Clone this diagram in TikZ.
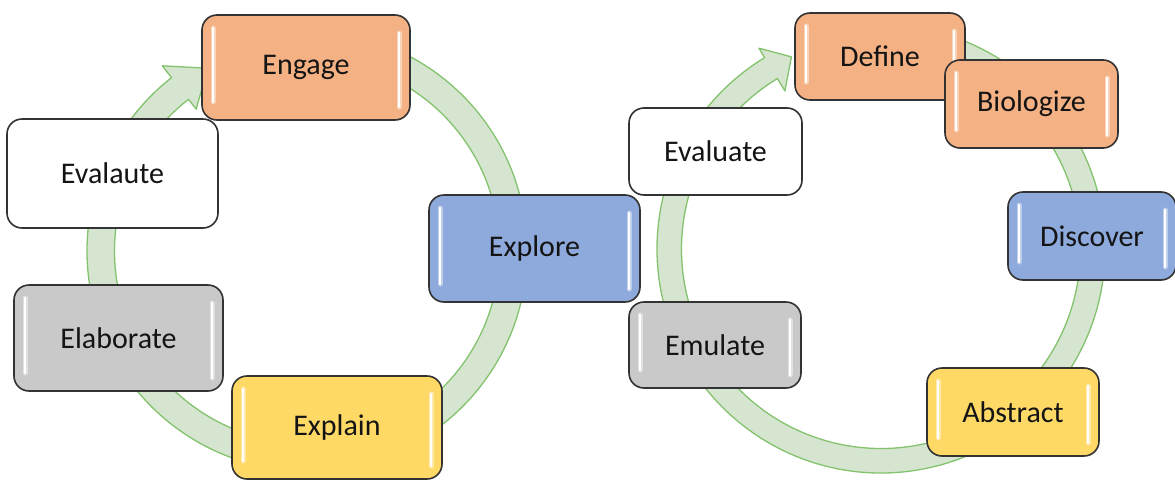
\documentclass[tikz,border=0pt]{standalone}
\usepackage{fontspec}
\setmainfont{Carlito}
\definecolor{ringfill}{HTML}{D5E5CF}
\definecolor{ringline}{HTML}{84C36E}
\definecolor{orangefill}{HTML}{F4B183}
\definecolor{bluefill}{HTML}{8EA9DB}
\definecolor{yellowfill}{HTML}{FFD966}
\definecolor{grayfill}{HTML}{C9C9C9}
\definecolor{cardline}{HTML}{333333}
\begin{document}
\begin{tikzpicture}[x=1pt,y=-1pt,
  ring/.style={fill=ringfill, draw=ringline, line width=1.3pt, line join=round},
  card/.style={draw=cardline, line width=1.6pt, rounded corners=15pt,
    inner sep=0pt, text=black!92, font=\fontsize{30}{35}\selectfont},
  glow/.style={white, opacity=0.45, line width=5pt, line cap=round},
  core/.style={white, line width=2.2pt, line cap=round},
  shine/.style={path picture={
    \foreach \s in {glow,core}{
      \draw[\s] ([shift={(11,13)}]path picture bounding box.north west)
             -- ([shift={(11,-18)}]path picture bounding box.south west);
      \draw[\s] ([shift={(-11,18)}]path picture bounding box.north east)
             -- ([shift={(-11,-13)}]path picture bounding box.south east);
    }}},
  size/.style 2 args={minimum width=#1, minimum height=#2}
]
\useasboundingbox (0,0) rectangle (1175,482);

% circular arrow of the 5E cycle
\begin{scope}[shift={(307,251)}]
  \draw[ring] (-100:220) arc[start angle=-100, end angle=232, radius=220]
    -- (232:235) -- (241.5:208) -- (232:180) -- (232:192.5)
    arc[start angle=232, end angle=-100, radius=192.5] -- cycle;
\end{scope}

% circular arrow of the design spiral
\begin{scope}[shift={(881,249)}]
  \draw[ring] (-100:224) arc[start angle=-100, end angle=238.7, radius=224]
    -- (238.7:235) -- (245:212) -- (238.7:185) -- (238.7:199.5)
    arc[start angle=238.7, end angle=-100, radius=199.5] -- cycle;
\end{scope}

% 5E cycle
\node[card, shine, fill=orangefill, size={208}{105}] (engage)    at (306,67.5)   {Engage};
\node[card, fill=white,             size={211}{109}] (evalaute)  at (112.5,173.5) {Evalaute};
\node[card, shine, fill=bluefill,   size={211}{107}] (explore)   at (534.5,248.5) {Explore};
\node[card, shine, fill=grayfill,   size={209}{106}] (elaborate) at (118.5,338)   {Elaborate};
\node[card, shine, fill=yellowfill, size={210}{103}] (explain)   at (337,427.5)   {Explain};

% design spiral
\node[card, shine, fill=orangefill, size={170}{87}] (define)    at (880,56.5)    {Define};
\node[card, shine, fill=orangefill, size={173}{88}] (biologize) at (1031.5,104)  {Biologize};
\node[card, fill=white,             size={173}{87}] (evaluate)  at (715.5,151.5) {Evaluate};
\node[card, shine, fill=bluefill,   size={168}{88}] (discover)  at (1092,236)    {Discover};
\node[card, shine, fill=grayfill,   size={172}{86}] (emulate)   at (715,345)     {Emulate};
\node[card, shine, fill=yellowfill, size={172}{88}] (abstract)  at (1013,412)    {Abstract};
\end{tikzpicture}
\end{document}
